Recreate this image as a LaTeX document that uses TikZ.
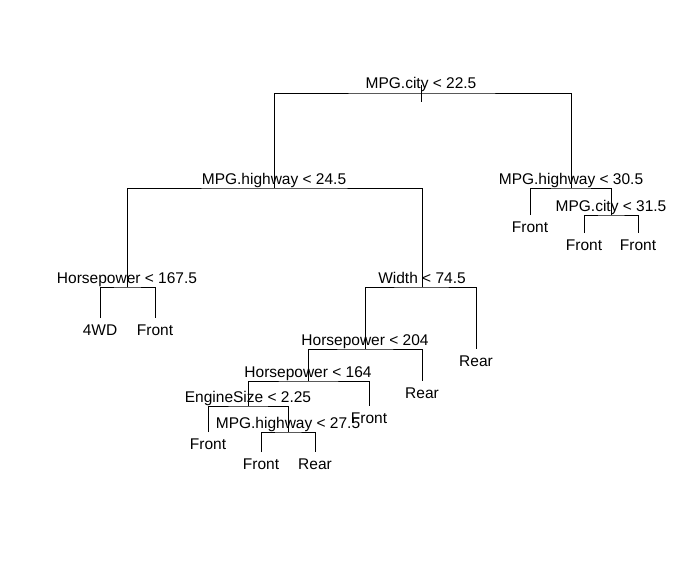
\documentclass[tikz,border=0pt]{standalone}
\usepackage{fontspec}
\setmainfont{Liberation Sans}
\usetikzlibrary{positioning}

\begin{document}
\begin{tikzpicture}[x=1pt, y=-1pt,
  split/.style={anchor=base, inner sep=0pt, font=\fontsize{15.5}{18}\selectfont, yshift=4pt},
  leaf/.style={anchor=base, inner sep=0pt, font=\fontsize{15.5}{18}\selectfont, yshift=-17pt},
  edge/.style={draw=black, line width=0.9pt}]
\useasboundingbox[fill=white] (0,0) rectangle (700,564);
% split points and leaf ends
\coordinate (root) at (421,93);
\coordinate (tt) at (421,85);
\coordinate (tb) at (421,102);
\coordinate (a) at (274,188);
\coordinate (b) at (571,188);
\coordinate (b1) at (530,215);
\coordinate (b2) at (611,215);
\coordinate (b21) at (584,233);
\coordinate (b22) at (638,233);
\coordinate (a1) at (127,287);
\coordinate (a11) at (100,318);
\coordinate (a12) at (155,318);
\coordinate (a2) at (422,287);
\coordinate (a21) at (365,349);
\coordinate (a22) at (476,349);
\coordinate (c1) at (308,381);
\coordinate (c2) at (422,381);
\coordinate (d1) at (248,406);
\coordinate (d2) at (369,406);
\coordinate (e1) at (208,432);
\coordinate (e2) at (288,432);
\coordinate (e21) at (261,452);
\coordinate (e22) at (315,452);
%
\draw[edge] (tt) -- (tb);
\draw[edge] (a) |- (root) -| (b);
\draw[edge] (b1) |- (b) -| (b2);
\draw[edge] (b21) |- (b2) -| (b22);
\draw[edge] (a1) |- (a) -| (a2);
\draw[edge] (a11) |- (a1) -| (a12);
\draw[edge] (a21) |- (a2) -| (a22);
\draw[edge] (c1) |- (a21) -| (c2);
\draw[edge] (d1) |- (c1) -| (d2);
\draw[edge] (e1) |- (d1) -| (e2);
\draw[edge] (e21) |- (e2) -| (e22);
%
\node[split] (lroot) at (root) {MPG.city < 22.5};
\node[split] (la) at (a) {MPG.highway < 24.5};
\node[split] (lb) at (b) {MPG.highway < 30.5};
\node[split] (lb2) at (b2) {MPG.city < 31.5};
\node[split] (la1) at (a1) {Horsepower < 167.5};
\node[split] (la2) at (a2) {Width < 74.5};
\node[split] (la21) at (a21) {Horsepower < 204};
\node[split] (lc1) at (c1) {Horsepower < 164};
\node[split] (ld1) at (d1) {EngineSize < 2.25};
\node[split] (le2) at (e2) {MPG.highway < 27.5};
%
\node[leaf] (lb1) at (b1) {Front};
\node[leaf] (lb21) at (b21) {Front};
\node[leaf] (lb22) at (b22) {Front};
\node[leaf] (la11) at (a11) {4WD};
\node[leaf] (la12) at (a12) {Front};
\node[leaf] (la22) at (a22) {Rear};
\node[leaf] (lc2) at (c2) {Rear};
\node[leaf] (ld2) at (d2) {Front};
\node[leaf] (le1) at (e1) {Front};
\node[leaf] (le21) at (e21) {Front};
\node[leaf] (le22) at (e22) {Rear};
\end{tikzpicture}
\end{document}
